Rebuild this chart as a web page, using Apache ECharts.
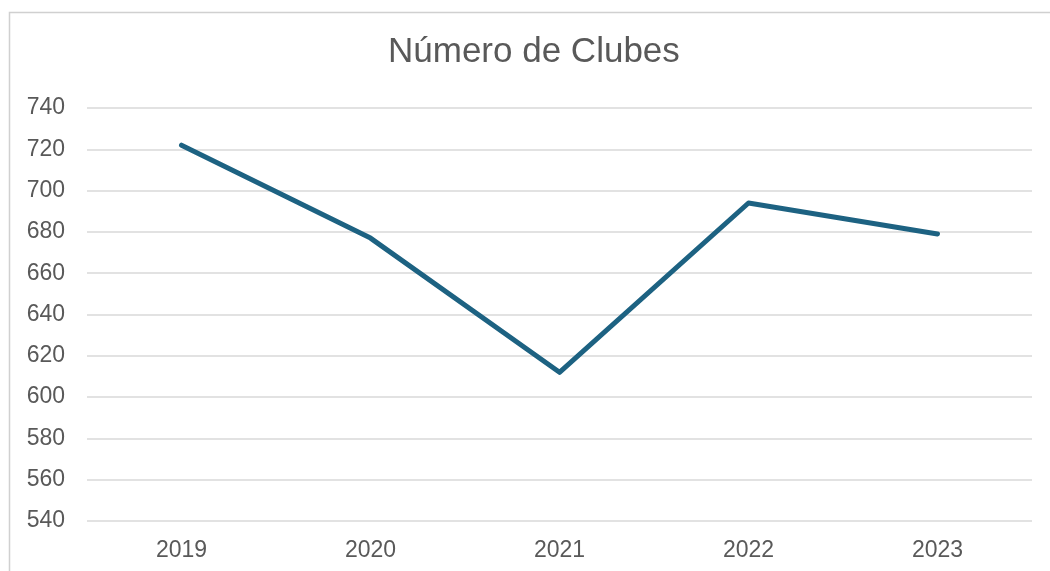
<!DOCTYPE html>
<html>
<head>
<meta charset="utf-8">
<script src="https://cdn.jsdelivr.net/npm/echarts@6/dist/echarts.min.js"></script>
<style>
    html, body { margin: 0; padding: 0; background: #fff; }
    #main { width: 1050px; height: 571px; }
</style>
</head>
<body>
<div id="main"></div>
<script>
// 数据
var years = ['2019', '2020', '2021', '2022', '2023'];
var clubes = [722, 677, 612, 694, 679];

var myChart = echarts.init(document.getElementById('main'), null, {renderer: 'canvas'}),
    option = {
        backgroundColor: '#ffffff',
        graphic: [{
            type: 'rect',
            shape: {x: 9.5, y: 12.5, width: 1100, height: 600},
            style: {fill: 'none', stroke: '#d0d0d0', lineWidth: 1.5},
            silent: true
        }],
        title: {
            text: 'Número de Clubes',
            left: 383,
            top: 30,
            textStyle: {
                fontFamily: 'Liberation Sans, Arial, sans-serif',
                fontSize: 35,
                fontWeight: 'normal',
                color: '#595959'
            }
        },
        grid: {
            left: 87,
            right: 18,
            top: 108,
            bottom: 50
        },
        xAxis: {
            type: 'category',
            data: years,
            boundaryGap: true,
            axisLine: {show: false},
            axisTick: {show: false},
            axisLabel: {
                fontFamily: 'Liberation Sans, Arial, sans-serif',
                fontSize: 23,
                color: '#595959',
                margin: 18
            }
        },
        yAxis: {
            type: 'value',
            min: 540,
            max: 740,
            interval: 20,
            axisLine: {show: false},
            axisTick: {show: false},
            axisLabel: {
                fontFamily: 'Liberation Sans, Arial, sans-serif',
                fontSize: 23,
                color: '#595959',
                margin: 22
            },
            splitLine: {
                lineStyle: {color: '#d9d9d9', width: 1.5}
            }
        },
        series: [{
            name: 'Número de Clubes',
            type: 'line',
            data: clubes,
            symbol: 'none',
            lineStyle: {color: '#1d6282', width: 5, cap: 'round', join: 'round'}
        }]
    };
myChart.setOption(option);
</script>
</body>
</html>
